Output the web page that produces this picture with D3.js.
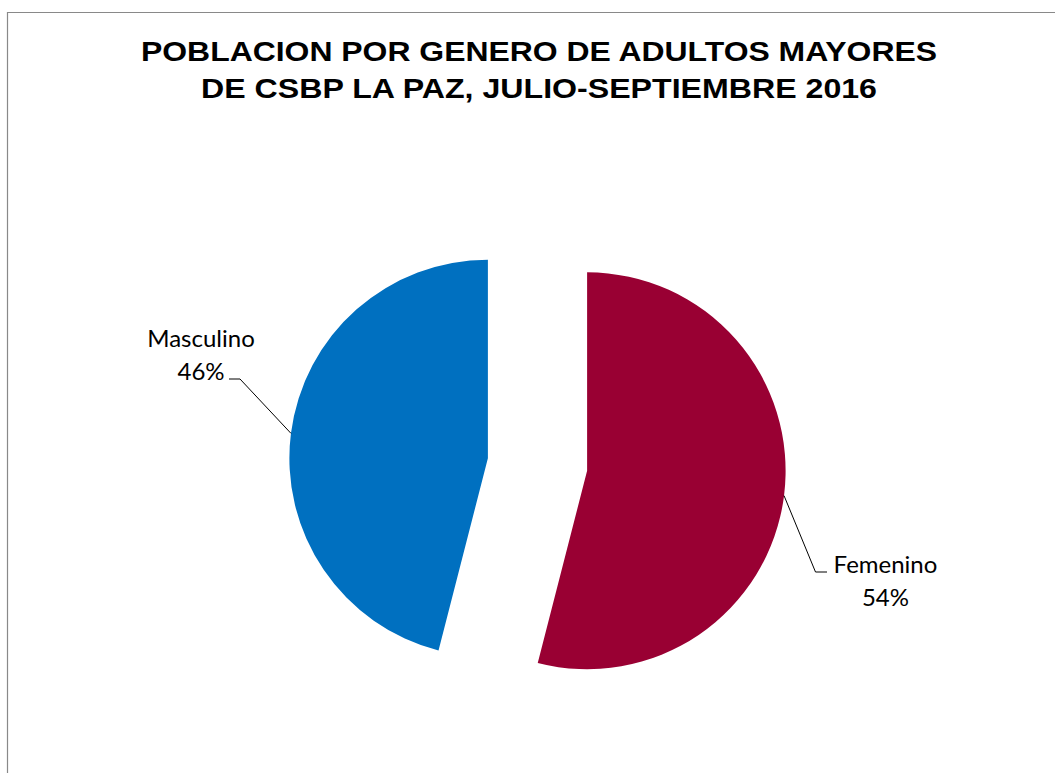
<!DOCTYPE html>
<html>
<head>
<meta charset="utf-8">
<script src="https://cdn.jsdelivr.net/npm/d3@7"></script>
<style>
  body { margin: 0; background: #fff; }
</style>
</head>
<body>
<div id="chart-area"></div>
<script>
// data
var categories = ["Femenino", "Masculino"];
var values = [54, 46];
var colors = ["#990033", "#0070C0"];
var titleLines = ["POBLACION POR GENERO DE ADULTOS MAYORES", "DE CSBP LA PAZ, JULIO-SEPTIEMBRE 2016"];

var width = 1055, height = 773;
var cx = 537.5, cy = 464.5, radius = 198.5, explode = 50;

var svg = d3.select("#chart-area")
  .append("svg")
    .attr("width", width)
    .attr("height", height);

// chart border (only top and left visible)
svg.append("path")
    .attr("d", "M7.5," + height + "V12.5H" + width)
    .attr("fill", "none")
    .attr("stroke", "#898989")
    .attr("stroke-width", 1.2);

// title is drawn a bit wider than the font, as in the original
var titleWidths = [796, 676];
svg.selectAll("text.title").data(titleLines)
  .enter()
  .append("text")
    .attr("class", "title")
    .attr("x", 539)
    .attr("y", (d, i) => 61 + i * 37)
    .attr("text-anchor", "middle")
    .attr("font-family", "Liberation Sans, Arial, sans-serif")
    .attr("font-weight", "bold")
    .attr("font-size", "28px")
    .attr("textLength", (d, i) => titleWidths[i])
    .attr("lengthAdjust", "spacingAndGlyphs")
    .attr("fill", "#000")
    .text((d) => d);

var data = categories.map((c, i) => ({ name: c, value: values[i] }));

var pie = d3.pie().sort(null).value((d) => d.value);
var arc = d3.arc().innerRadius(0).outerRadius(radius);
var arcs = pie(data);

var g = svg.append("g")
    .attr("transform", "translate(" + cx + "," + cy + ")");

function offset(d) {
  var a = (d.startAngle + d.endAngle) / 2;
  return [explode * Math.sin(a), -explode * Math.cos(a)];
}

g.selectAll("path.slice").data(arcs)
  .enter()
  .append("path")
    .attr("class", "slice")
    .attr("transform", (d) => "translate(" + offset(d) + ")")
    .attr("d", arc)
    .attr("fill", (d, i) => colors[i]);

// label layout: text centre and leader elbow, relative to the pie centre
var labelPos = [
  { tx: 348, ty: 108.5, elbow: [278, 107.5], end: [289.5, 107.5] },
  { tx: -336.5, ty: -118, elbow: [-297.5, -85.5], end: [-308.5, -85.5] }
];

arcs.forEach((d, i) => {
  var a = (d.startAngle + d.endAngle) / 2;
  var o = offset(d);
  var p0 = [o[0] + radius * Math.sin(a), o[1] - radius * Math.cos(a)];
  var lp = labelPos[i];
  g.append("polyline")
      .attr("points", [p0, lp.elbow, lp.end].map((p) => p.join(",")).join(" "))
      .attr("fill", "none")
      .attr("stroke", "#000")
      .attr("stroke-width", 1);
  var t = g.append("text")
      .attr("text-anchor", "middle")
      .attr("font-family", "Lato, Carlito, Calibri, sans-serif")
      .attr("font-size", "24px")
      .attr("fill", "#000");
  t.append("tspan").attr("x", lp.tx).attr("y", lp.ty).text(d.data.name);
  t.append("tspan").attr("x", lp.tx).attr("y", lp.ty + 33)
      .text(Math.round(d.data.value / d3.sum(values) * 100) + "%");
});
</script>
</body>
</html>
